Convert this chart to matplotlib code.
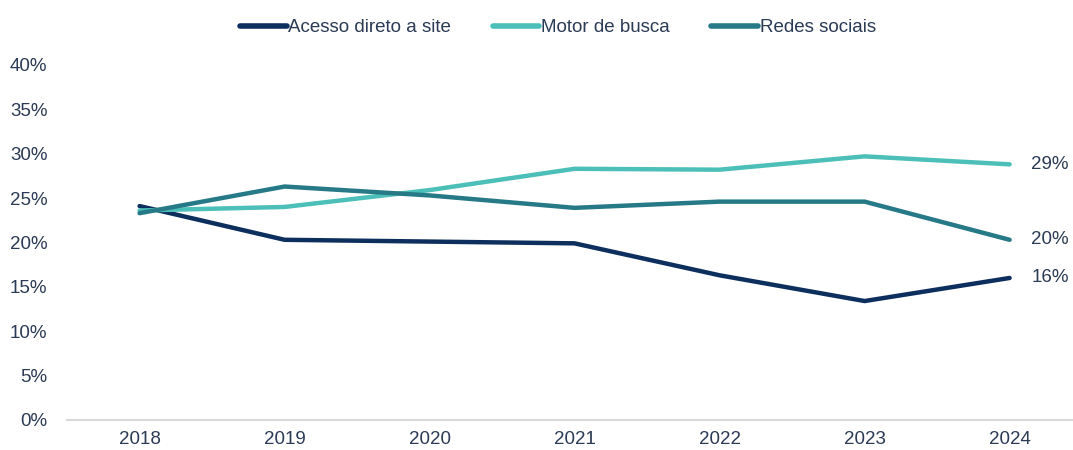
import matplotlib
matplotlib.use("Agg")
import matplotlib.pyplot as plt
from matplotlib.ticker import FuncFormatter

plt.rcParams['font.family'] = ['Liberation Sans', 'DejaVu Sans']

anos = ['2018', '2019', '2020', '2021', '2022', '2023', '2024']
acesso_direto = [24.1, 20.3, 20.1, 19.9, 16.3, 13.4, 16.0]
motor_busca = [23.6, 24.0, 25.9, 28.3, 28.2, 29.7, 28.8]
redes_sociais = [23.3, 26.3, 25.3, 23.9, 24.6, 24.6, 20.3]
rotulos_finais = ['16%', '29%', '20%']

txt = '#2b3a55'
series = [
    ('Acesso direto a site', acesso_direto, '#0d2f5e'),
    ('Motor de busca', motor_busca, '#4cc0b8'),
    ('Redes sociais', redes_sociais, '#267a87'),
]

fig = plt.figure(figsize=(10.73, 4.5), dpi=100)
ax = fig.add_axes([0.0625, 0.0667, 0.946, 0.789])

x = range(len(anos))
for (nome, vals, cor), rot in zip(series, rotulos_finais):
    ax.plot(x, [v / 100 for v in vals], color=cor, lw=3.2, label=nome, solid_capstyle='round')
    ax.text(len(anos) - 1 + 0.15, vals[-1] / 100, rot, color=txt, fontsize=13.5, va='center', ha='left')

ax.set_xlim(-0.5, len(anos) - 0.5)
ax.set_ylim(0, 0.40)
ax.set_yticks([i / 100 for i in range(0, 41, 5)])
ax.yaxis.set_major_formatter(FuncFormatter(lambda v, p: f'{v*100:.0f}%'))
ax.set_xticks(list(x))
ax.set_xticklabels(anos)
ax.tick_params(axis='both', length=0, labelsize=13.5, colors=txt)
ax.tick_params(axis='x', pad=8)
ax.tick_params(axis='y', pad=14)
for s in ['top', 'right', 'left']:
    ax.spines[s].set_visible(False)
ax.spines['bottom'].set_color('#d9d9d9')
ax.spines['bottom'].set_linewidth(1.5)

leg = fig.legend(loc='upper center', bbox_to_anchor=(0.52, 0.995), ncol=3, frameon=False,
                 fontsize=13.5, handlelength=2.5, handletextpad=0.1, columnspacing=2.2)
for t in leg.get_texts():
    t.set_color(txt)
for l in leg.get_lines():
    l.set_linewidth(4)

fig.savefig('out.png', dpi=100)
